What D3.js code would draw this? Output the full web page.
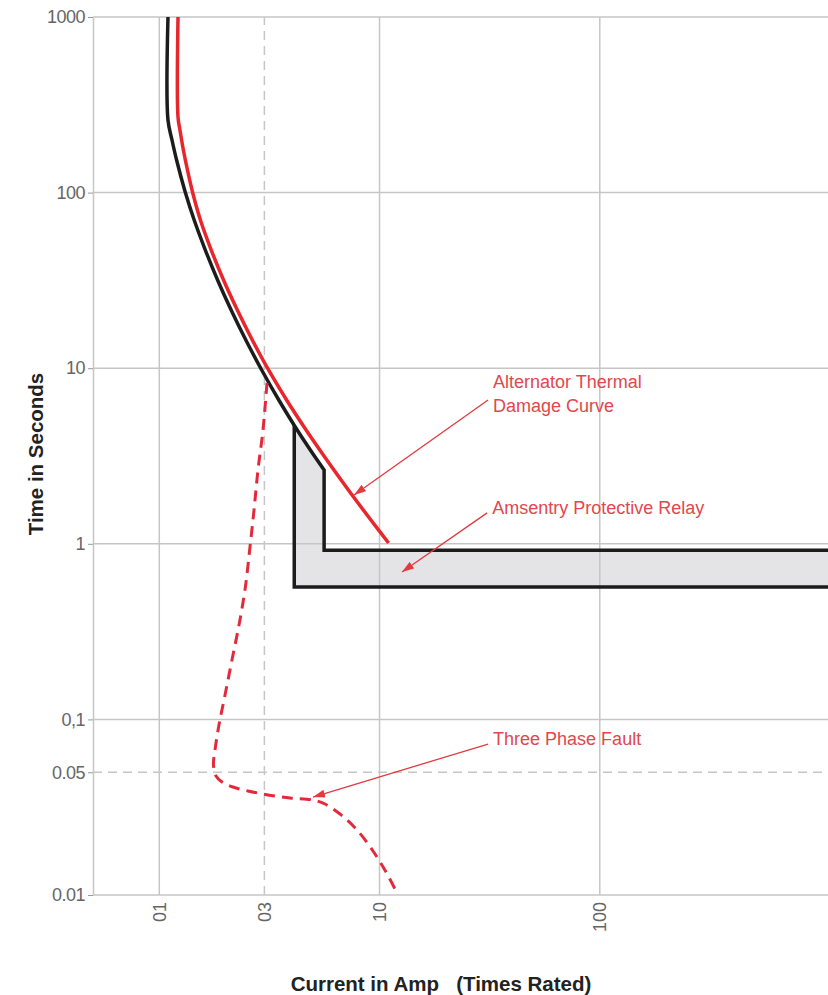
<!DOCTYPE html>
<html><head><meta charset="utf-8">
<script src="https://cdn.jsdelivr.net/npm/d3@7"></script>
<style>body{margin:0;background:#fff} svg{display:block}</style>
</head><body>
<svg id="chart" width="828" height="995"></svg>
<script>
// ---- data ----
const xDomain = [0.5, 1087];
const yDomain = [0.01, 1000];
const xGridValues = [1, 10, 100];
const xDashedValues = [3];
const yGridValues = [1000, 100, 10, 1, 0.1, 0.01];
const yDashedValues = [0.05];
const xTickValues = [1, 3, 10, 100];
const xTickLabels = ["01", "03", "10", "100"];
const yTickValues = [1000, 100, 10, 1, 0.1, 0.05, 0.01];
const yTickLabels = ["1000", "100", "10", "1", "0,1", "0.05", "0.01"];

// Alternator thermal damage curve
const thermalX = [1.216, 1.216, 1.241, 1.286, 1.342, 1.415, 1.537, 1.721, 1.957, 2.261, 2.644, 3.115, 3.785, 4.640, 5.763, 7.221, 9.136, 10.99];
const thermalY = [1000, 269.4, 227.2, 174.8, 134.5, 100.8, 69.8, 47.1, 31.8, 21.45, 14.47, 9.90, 6.59, 4.447, 3.001, 2.025, 1.366, 1.011];

// Protective relay curve (upper edge)
const relayX = [1.095, 1.095, 1.142, 1.198, 1.311, 1.440, 1.618, 1.839, 2.119, 2.471, 2.917, 3.488, 4.144, 4.850, 5.602];
const relayY = [1000, 259.0, 199.3, 153.3, 100.8, 69.8, 47.1, 31.8, 21.45, 14.47, 9.767, 6.59, 4.626, 3.42, 2.632];
// relay band inner / outer edges
const relayInnerX = [5.602, 5.602, 1087];
const relayInnerY = [2.632, 0.92, 0.92];
const relayOuterX = [4.1, 4.1, 1087];
const relayOuterY = [4.75, 0.568, 0.568];

// Three phase fault decrement curve
const faultX = [3.083, 2.957, 2.806, 2.692, 2.581, 2.449, 2.301, 2.138, 1.988, 1.866, 1.790, 1.762, 1.809, 1.926, 2.161, 2.527, 2.957, 3.922, 4.987, 5.655, 6.615, 7.902, 9.339, 10.70, 12.00];
const faultY = [8.238, 4.447, 2.632, 1.557, 0.9589, 0.5456, 0.3448, 0.2180, 0.1377, 0.09292, 0.06693, 0.05499, 0.04762, 0.04400, 0.04121, 0.03912, 0.03761, 0.03568, 0.03475, 0.03297, 0.02892, 0.02346, 0.01781, 0.01352, 0.01026];

// annotations (tail -> tip in data units)
const annoLabels = [["Alternator Thermal", "Damage Curve"], ["Amsentry Protective Relay"], ["Three Phase Fault"]];
const annoTail = [[31.1, 6.59], [30.8, 1.50], [31.1, 0.0724]];
const annoTip = [[7.66, 1.897], [12.65, 0.691], [4.99, 0.0361]];

// ---- chart ----
const W = 828, H = 995;
const m = {left: 93, right: 0, top: 17, bottom: 100};
const svg = d3.select("#chart");
const x = d3.scaleLog().domain(xDomain).range([m.left, W - m.right]);
const y = d3.scaleLog().domain(yDomain).range([H - m.bottom, m.top]);

const RED = "#e8262c", BLACK = "#1c1c1c", GRID = "#c6c6c6";
const FONT = "'Liberation Sans', Arial, sans-serif";

const smooth = d3.line().x(d => x(d[0])).y(d => y(d[1])).curve(d3.curveCatmullRom.alpha(0.5));
const straight = d3.line().x(d => x(d[0])).y(d => y(d[1]));

const relayPts = relayX.map((v, i) => [v, relayY[i]]);
const innerPts = relayInnerX.map((v, i) => [v, relayInnerY[i]]);
const outerPts = relayOuterX.map((v, i) => [v, relayOuterY[i]]);

// relay band fill
const bandPts = [outerPts[0]]
  .concat(relayPts.filter(p => p[0] > relayOuterX[0]))
  .concat(innerPts.slice(1))
  .concat(outerPts.slice(1).reverse());
svg.append("path").attr("d", straight(bandPts) + "Z").attr("fill", "#e4e4e6");

// grid
const g = svg.append("g");
g.selectAll(".hg").data(yGridValues).join("line")
  .attr("x1", m.left).attr("x2", W).attr("y1", d => y(d)).attr("y2", d => y(d))
  .attr("stroke", GRID).attr("stroke-width", 1.5);
g.selectAll(".vg").data(xGridValues).join("line")
  .attr("y1", y(yDomain[0])).attr("y2", y(yDomain[1])).attr("x1", d => x(d)).attr("x2", d => x(d))
  .attr("stroke", GRID).attr("stroke-width", 1.5);
g.selectAll(".hd").data(yDashedValues).join("line")
  .attr("x1", m.left).attr("x2", W).attr("y1", d => y(d)).attr("y2", d => y(d))
  .attr("stroke", GRID).attr("stroke-width", 1.5).attr("stroke-dasharray", "9,6");
g.selectAll(".vd").data(xDashedValues).join("line")
  .attr("y1", y(yDomain[0])).attr("y2", y(yDomain[1])).attr("x1", d => x(d)).attr("x2", d => x(d))
  .attr("stroke", GRID).attr("stroke-width", 1.5).attr("stroke-dasharray", "9,6");

// y axis
const yAxis = d3.axisLeft(y).tickValues(yTickValues)
  .tickFormat((d, i) => yTickLabels[i]).tickSize(5).tickSizeOuter(0).tickPadding(3);
const ya = svg.append("g").attr("transform", `translate(${m.left},0)`).call(yAxis);
ya.select(".domain").attr("stroke", GRID).attr("stroke-width", 1.5);
ya.selectAll(".tick line").attr("stroke", "#999");
ya.selectAll(".tick text").attr("fill", "#666").style("font-family", FONT)
  .style("font-size", "18px").attr("letter-spacing", "-0.5");

// x tick labels (rotated)
svg.append("g").selectAll("text").data(xTickValues).join("text")
  .attr("transform", d => `translate(${x(d)},${y(yDomain[0]) + 7}) rotate(-90)`)
  .attr("text-anchor", "end").attr("dy", "0.35em")
  .attr("fill", "#666").style("font-family", FONT).style("font-size", "18px")
  .text((d, i) => xTickLabels[i]);

// relay lines
svg.append("path")
  .attr("d", smooth(relayPts) + straight(innerPts.slice(1)).replace("M", "L"))
  .attr("fill", "none").attr("stroke", BLACK).attr("stroke-width", 3.5).attr("stroke-linejoin", "miter");
svg.append("path")
  .attr("d", straight(outerPts))
  .attr("fill", "none").attr("stroke", BLACK).attr("stroke-width", 3.5);

// thermal damage curve
svg.append("path")
  .attr("d", smooth(thermalX.map((v, i) => [v, thermalY[i]])))
  .attr("fill", "none").attr("stroke", RED).attr("stroke-width", 3.5);

// fault curve
svg.append("path")
  .attr("d", smooth(faultX.map((v, i) => [v, faultY[i]])))
  .attr("fill", "none").attr("stroke", "#e32a3c").attr("stroke-width", 3).attr("stroke-dasharray", "11,7");

// annotations
const defs = svg.append("defs");
defs.append("marker").attr("id", "ah").attr("viewBox", "0 0 12 8").attr("refX", 12).attr("refY", 4)
  .attr("markerWidth", 12).attr("markerHeight", 8).attr("markerUnits", "userSpaceOnUse").attr("orient", "auto")
  .append("path").attr("d", "M0,0L12,4L0,8Z").attr("fill", "#e3393f");
const ag = svg.append("g");
annoLabels.forEach((lines, i) => {
  const [tx, ty] = annoTail[i], [px, py] = annoTip[i];
  ag.append("line").attr("x1", x(tx)).attr("y1", y(ty)).attr("x2", x(px)).attr("y2", y(py))
    .attr("stroke", "#e3393f").attr("stroke-width", 1.3).attr("marker-end", "url(#ah)");
  const t = ag.append("text").attr("fill", "#e2474c")
    .style("font-family", FONT).style("font-size", "18px");
  const base = lines.length > 1 ? y(ty) - 12 : y(ty) + 1;
  lines.forEach((s, j) => t.append("tspan").attr("x", x(tx) + 5).attr("y", base + j * 24).text(s));
});

// axis titles
svg.append("text")
  .attr("transform", `translate(43,${(y(yDomain[0]) + y(yDomain[1])) / 2 - 2}) rotate(-90)`)
  .attr("text-anchor", "middle").attr("fill", "#222")
  .style("font-family", FONT).style("font-weight", "bold").style("font-size", "20.5px")
  .text("Time in Seconds");
svg.append("text")
  .attr("x", 441).attr("y", 991).attr("text-anchor", "middle").attr("fill", "#222")
  .style("font-family", FONT).style("font-weight", "bold").style("font-size", "20.5px")
  .style("white-space", "pre")
  .text("Current in Amp   (Times Rated)");
</script>
</body></html>
